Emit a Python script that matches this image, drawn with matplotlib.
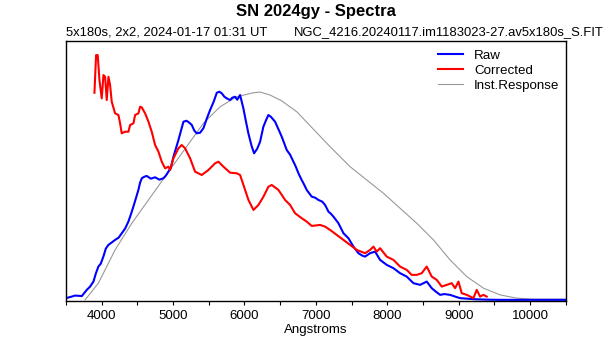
import matplotlib
matplotlib.use('Agg')
import matplotlib.pyplot as plt

plt.rcParams['font.family'] = ['Liberation Sans', 'DejaVu Sans']

# (arbitrary flux units)
raw_wave = [3500, 3560, 3631, 3724, 3794, 3840, 3887, 3920, 3956, 3990, 4026, 4060, 4096,
            4140, 4190, 4240, 4284, 4330, 4376, 4410, 4446, 4480, 4516, 4540, 4564, 4600,
            4634, 4690, 4750, 4810, 4866, 4900, 4936, 4970, 5007, 5077, 5120, 5147, 5190,
            5230, 5264, 5300, 5334, 5380, 5426, 5473, 5520, 5570, 5614, 5650, 5684, 5720,
            5754, 5800, 5830, 5870, 5900, 5940, 5986, 6020, 6056, 6100, 6136, 6180, 6220,
            6266, 6300, 6336, 6370, 6430, 6480, 6523, 6560, 6593, 6640, 6687, 6720, 6757,
            6800, 6827, 6873, 6943, 6990, 7037, 7090, 7130, 7177, 7210, 7247, 7317, 7387,
            7457, 7527, 7597, 7650, 7690, 7730, 7760, 7830, 7900, 7950, 7993, 8087, 8180,
            8273, 8367, 8460, 8553, 8623, 8680, 8740, 8800, 8880, 8950, 9020, 9100, 9207,
            9400, 9580, 10500]
raw_flux = [2.4, 3.5, 5, 4.5, 10.7, 14, 19, 27, 34, 37, 44, 52, 55.7,
            58, 60.7, 63, 67.4, 72, 79, 86, 94, 102, 110.7, 118, 122.4, 124,
            124.7, 122, 123.4, 121, 122.4, 125, 129, 133, 144, 160.7, 172, 179, 180,
            178, 175.7, 170, 167.4, 168, 172.4, 182, 190.7, 199, 208, 209, 207.4, 204,
            202.4, 200.7, 203, 204, 201, 205.7, 192.4, 180, 167.4, 155, 147.4, 152, 159,
            174, 180, 185.7, 184, 179, 171, 164, 157, 150.7, 146, 139, 134, 127.4,
            121, 117.4, 110.7, 104, 103, 100.7, 99, 95.7, 89, 87, 84, 77.4, 67.4,
            62.4, 54, 47.4, 45, 44, 46, 47.4, 49, 40.7, 38, 35.7, 32.4, 27.4,
            24, 17.4, 15.7, 19, 12.4, 9, 5.7, 6.5, 5.7, 4, 2.4, 2, 1.4,
            0.9, 0.7, 0.7]

corr_wave = [3901, 3924, 3947, 3971, 4003, 4027, 4050, 4073, 4097, 4120, 4143, 4190, 4237,
             4260, 4283, 4330, 4377, 4400, 4447, 4470, 4517, 4540, 4563, 4610, 4657, 4703,
             4750, 4797, 4843, 4890, 4937, 4960, 5007, 5077, 5123, 5170, 5240, 5310, 5403,
             5497, 5590, 5637, 5707, 5800, 5893, 5940, 5987, 6057, 6127, 6197, 6267, 6337,
             6383, 6477, 6570, 6640, 6710, 6803, 6873, 6943, 7060, 7130, 7200, 7293, 7387,
             7480, 7573, 7690, 7760, 7807, 7853, 7900, 7993, 8087, 8180, 8273, 8343, 8413,
             8483, 8553, 8623, 8693, 8763, 8833, 8903, 8950, 8997, 9043, 9113, 9207, 9253,
             9300, 9347, 9393]
corr_flux = [208, 245.7, 245.7, 220.7, 202.4, 225.7, 224, 200.7, 224, 215.7, 199, 187.4, 185.7,
             177.4, 167.4, 169, 169, 175.7, 177.4, 185.7, 187.4, 194, 193.4, 187.4, 179, 169,
             155.7, 149, 139, 132.4, 134, 130.7, 142.4, 152.4, 155.7, 152.4, 142.4, 129, 125.7,
             130.7, 137.4, 139, 134, 128, 127.4, 125.7, 115.7, 100.7, 90.7, 95.7, 104, 114,
             115.7, 110.7, 100.7, 95.7, 87.4, 82.4, 79, 74.7, 75.7, 74, 70.7, 65.7, 60.7,
             55.7, 50.7, 47.4, 50.7, 54, 49, 52.4, 44, 40.7, 34, 30.7, 25.7, 25.7,
             27.4, 34, 24, 20.7, 14, 15.7, 17.4, 12.4, 19, 7.4, 5.7, 2.4, 10.7,
             4, 5.7, 4]

resp_wave = [3770, 3956, 4190, 4424, 4657, 4890, 5124, 5426, 5660, 5894, 6126, 6220, 6360,
             6520, 6734, 6920, 7200, 7480, 7713, 7947, 8180, 8413, 8647, 8880, 9113, 9347,
             9580, 9813, 10047, 10500]
resp_flux = [0.7, 17.4, 50.7, 77.4, 100.7, 124, 147.4, 177.4, 194, 204, 208, 208.7, 205.7,
             200, 189, 175, 154, 134, 120.7, 107.4, 92.4, 77.4, 60.7, 40.7, 24, 12.4,
             5.7, 2.4, 1.4, 1.4]

fig = plt.figure(figsize=(6.15, 3.4), dpi=100)
ax = fig.add_axes([0.107, 0.116, 0.813, 0.764])

ax.plot(resp_wave, resp_flux, color='#999999', lw=0.8, label='Inst.Response', zorder=1)
ax.plot(raw_wave, raw_flux, color='#0000FF', lw=1.5, label='Raw', zorder=2)
ax.plot(corr_wave, corr_flux, color='#FF0000', lw=1.5, label='Corrected', zorder=3)

ax.set_xlim(3500, 10500)
ax.set_ylim(0, 260)
ax.set_xticks(range(3500, 10501, 500))
ax.set_xticklabels(['' if w % 1000 else str(w) for w in range(3500, 10501, 500)])
ax.set_yticks([])
ax.tick_params(axis='x', direction='out', length=3, labelsize=9.5, pad=4)
for s in ax.spines.values():
    s.set_linewidth(1.0)
ax.set_xlabel('Angstroms', fontsize=9.6, labelpad=1)

h, l = ax.get_legend_handles_labels()
order = [1, 2, 0]
ax.legend([h[i] for i in order], [l[i] for i in order], loc='upper left',
          frameon=False, fontsize=9.6, handlelength=1.9, handletextpad=0.8,
          labelspacing=0.2, borderaxespad=0, bbox_to_anchor=(0.734, 0.988))

fig.text(0.513, 0.965, 'SN 2024gy - Spectra', ha='center', va='center',
         fontsize=12, fontweight='bold')
fig.text(0.108, 0.905, '5x180s, 2x2, 2024-01-17 01:31 UT', ha='left', va='center',
         fontsize=9.35)
fig.text(0.981, 0.905, 'NGC_4216.20240117.im1183023-27.av5x180s_S.FIT', ha='right',
         va='center', fontsize=9.35)

fig.savefig('out.png', dpi=100)
